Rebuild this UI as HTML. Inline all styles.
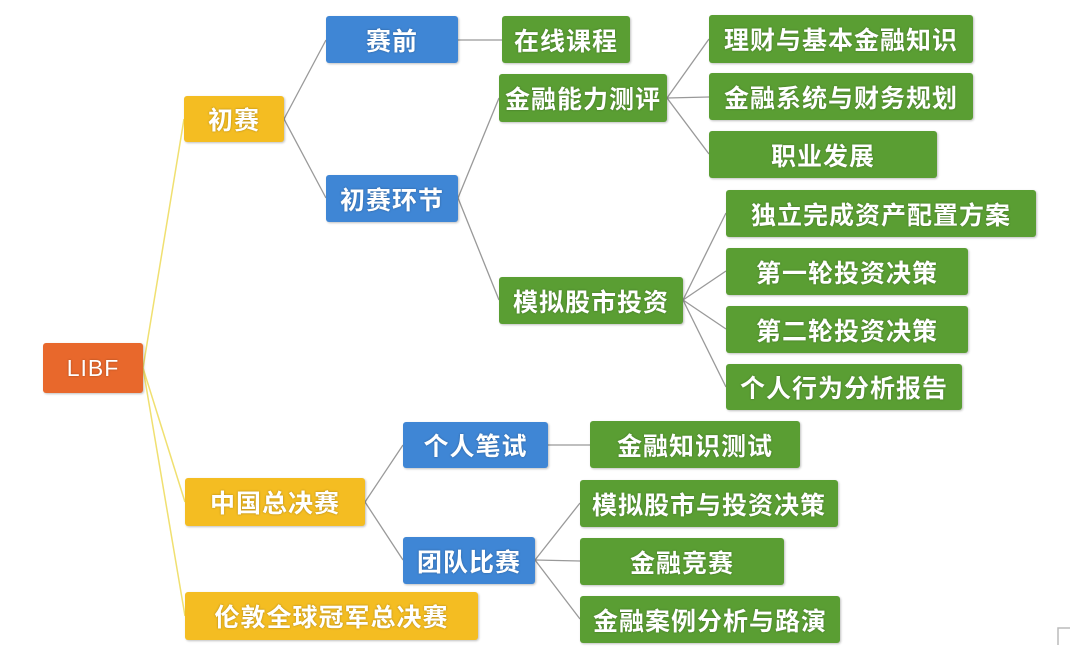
<!DOCTYPE html>
<html><head><meta charset="utf-8"><style>
body{margin:0;width:1080px;height:660px;background:#fff;position:relative;overflow:hidden;font-family:"Liberation Sans","Noto Sans CJK SC",sans-serif}
.n{position:absolute;display:flex;align-items:center;justify-content:center;color:#fff;font-size:25px;font-weight:bold;border-radius:3px;box-shadow:1px 1px 2px rgba(0,0,0,.25);text-shadow:0 0 2px rgba(0,0,0,.3);letter-spacing:1px;white-space:nowrap}
.o{background:#E8682C}.y{background:#F4BD22}.b{background:#3F86D5}.g{background:#5A9E33}
svg{position:absolute;left:0;top:0}
</style></head><body>
<svg width="1080" height="660">
<g stroke="#F0E070" stroke-width="1.5" fill="none">
<path d="M143 368 L184 119"/><path d="M143 368 L185 502"/><path d="M143 368 L185 616"/>
</g>
<g stroke="#999" stroke-width="1.3" fill="none">
<path d="M284 119 L326 40"/><path d="M284 119 L326 198"/>
<path d="M458 40 L502 40"/>
<path d="M458 198 L499 98"/><path d="M458 198 L499 300"/>
<path d="M667 98 L709 39"/><path d="M667 98 L709 97"/><path d="M667 98 L709 154"/>
<path d="M683 300 L726 213"/><path d="M683 300 L726 271"/><path d="M683 300 L726 329"/><path d="M683 300 L726 387"/>
<path d="M365 502 L403 445"/><path d="M365 502 L403 560"/>
<path d="M548 445 L590 445"/>
<path d="M535 560 L580 503"/><path d="M535 560 L580 561"/><path d="M535 560 L580 619"/>
</g>
<path d="M1058 645 L1058 628 L1070 628" stroke="#bbb" stroke-width="1.5" fill="none"/>
</svg>
<div class="n o" style="left:43px;top:343px;width:100px;height:50px;font-weight:normal;font-size:23px">LIBF</div>
<div class="n y" style="left:184px;top:96px;width:100px;height:46px">初赛</div>
<div class="n y" style="left:185px;top:478px;width:180px;height:48px">中国总决赛</div>
<div class="n y" style="left:185px;top:592px;width:293px;height:48px">伦敦全球冠军总决赛</div>
<div class="n b" style="left:326px;top:16px;width:132px;height:47px">赛前</div>
<div class="n b" style="left:326px;top:175px;width:132px;height:47px">初赛环节</div>
<div class="n b" style="left:403px;top:422px;width:145px;height:46px">个人笔试</div>
<div class="n b" style="left:403px;top:537px;width:132px;height:47px">团队比赛</div>
<div class="n g" style="left:502px;top:16px;width:128px;height:47px">在线课程</div>
<div class="n g" style="left:499px;top:74px;width:168px;height:48px">金融能力测评</div>
<div class="n g" style="left:499px;top:277px;width:184px;height:47px">模拟股市投资</div>
<div class="n g" style="left:709px;top:15px;width:264px;height:48px">理财与基本金融知识</div>
<div class="n g" style="left:709px;top:73px;width:264px;height:47px">金融系统与财务规划</div>
<div class="n g" style="left:709px;top:131px;width:228px;height:47px">职业发展</div>
<div class="n g" style="left:726px;top:190px;width:310px;height:47px">独立完成资产配置方案</div>
<div class="n g" style="left:726px;top:248px;width:242px;height:47px">第一轮投资决策</div>
<div class="n g" style="left:726px;top:306px;width:242px;height:47px">第二轮投资决策</div>
<div class="n g" style="left:726px;top:364px;width:236px;height:46px">个人行为分析报告</div>
<div class="n g" style="left:590px;top:421px;width:210px;height:47px">金融知识测试</div>
<div class="n g" style="left:580px;top:480px;width:258px;height:47px">模拟股市与投资决策</div>
<div class="n g" style="left:580px;top:538px;width:204px;height:47px">金融竞赛</div>
<div class="n g" style="left:580px;top:596px;width:260px;height:47px">金融案例分析与路演</div>
</body></html>
